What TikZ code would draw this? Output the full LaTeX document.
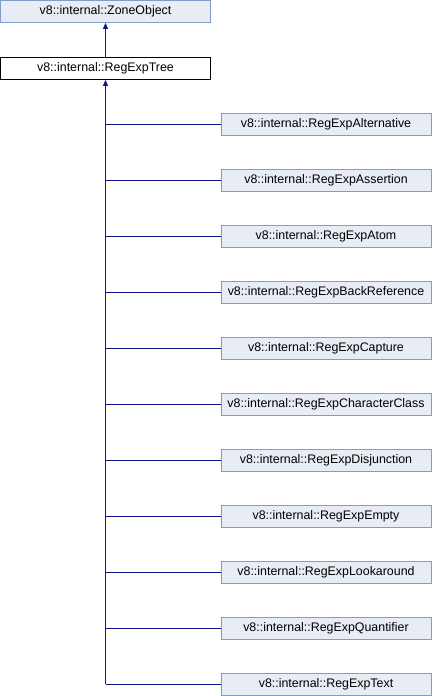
\documentclass[tikz,border=0pt]{standalone}
\usepackage{fontspec}
\setmainfont{Liberation Sans}
\usetikzlibrary{arrows.meta}
\definecolor{boxfill}{RGB}{232,236,245}
\definecolor{boxline}{RGB}{132,155,201}
\definecolor{edge}{RGB}{18,18,140}
\begin{document}
\begin{tikzpicture}[x=1pt,y=-1pt,
  cls/.style={draw=boxline,fill=boxfill,line width=0.8pt,minimum height=22pt,inner sep=0pt,font=\fontsize{12.4}{14}\selectfont,anchor=center},
  cur/.style={cls,draw=black,fill=white},
  edg/.style={draw=edge,line width=1pt},
  arr/.style={edg,-{Triangle[length=6pt,width=5pt]}}]
\useasboundingbox (0,0) rectangle (432,696);
\node[cls,minimum width=210pt] (zone) at (105.5,11.5) {v8::internal::ZoneObject};
\node[cur,minimum width=210pt] (tree) at (105.5,68.5) {v8::internal::RegExpTree};
\draw[arr] (tree.north) -- (zone.south);
\foreach \n/\t [count=\i from 0] in {alt/RegExpAlternative,ass/RegExpAssertion,atom/RegExpAtom,back/RegExpBackReference,cap/RegExpCapture,cc/RegExpCharacterClass,dis/RegExpDisjunction,emp/RegExpEmpty,look/RegExpLookaround,quant/RegExpQuantifier,text/RegExpText}{
  \node[cls,minimum width=210pt] (\n) at (326,124+56*\i) {v8::internal::\t};
  \coordinate (j\n) at (tree.south |- \n.west);
  \draw[edg] (j\n) -- (\n.west);
}
\draw[arr] (jtext) -- (tree.south);
\end{tikzpicture}
\end{document}
